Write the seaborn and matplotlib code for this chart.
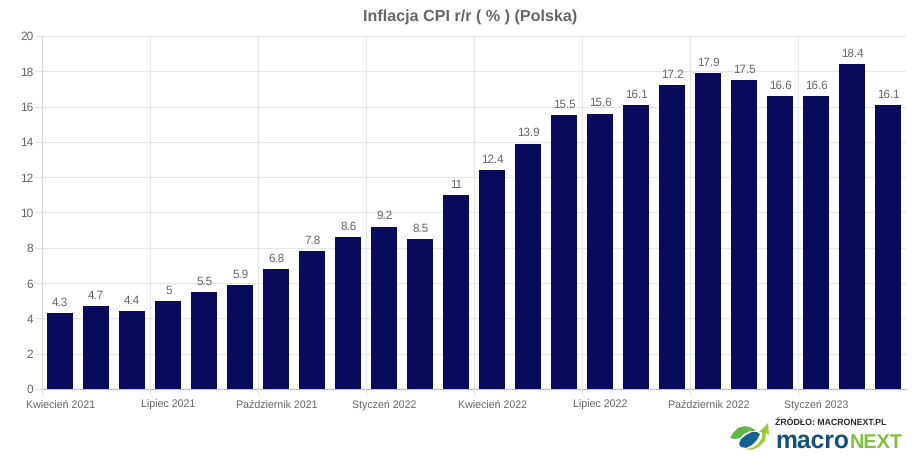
import matplotlib
matplotlib.use("Agg")
import matplotlib.pyplot as plt
from matplotlib.patches import Polygon
import matplotlib.font_manager as fm
import seaborn as sns
import pandas as pd

months = ["Kwiecień 2021","Maj 2021","Czerwiec 2021","Lipiec 2021","Sierpień 2021","Wrzesień 2021",
          "Październik 2021","Listopad 2021","Grudzień 2021","Styczeń 2022","Luty 2022","Marzec 2022",
          "Kwiecień 2022","Maj 2022","Czerwiec 2022","Lipiec 2022","Sierpień 2022","Wrzesień 2022",
          "Październik 2022","Listopad 2022","Grudzień 2022","Styczeń 2023","Luty 2023","Marzec 2023"]
values = [4.3,4.7,4.4,5,5.5,5.9,6.8,7.8,8.6,9.2,8.5,11,12.4,13.9,15.5,15.6,16.1,17.2,17.9,17.5,16.6,16.6,18.4,16.1]
title = "Inflacja CPI r/r ( % ) (Polska)"
yticks = list(range(0, 21, 2))

GREY = "#666666"
sns.set_theme(style="white")
plt.rcParams["font.family"] = ["Liberation Sans", "DejaVu Sans"]
plt.rcParams["text.hinting"] = "no_hinting"

W, H = 920, 457
fig = plt.figure(figsize=(W/100, H/100), dpi=100, facecolor="white")
ax = fig.add_axes([42.3/W, 1-389/H, 864/W, (389-36)/H])

df = pd.DataFrame({"month": months, "value": values})
sns.barplot(data=df, x="month", y="value", color="#0a0a5c", saturation=1, width=0.72,
            linewidth=0, ax=ax, zorder=3)
ax.set_xlim(-0.5, len(months)-0.5)
ax.set_ylim(0, 20)
ax.set_xlabel(""); ax.set_ylabel("")

ax.set_yticks(yticks)
ax.set_yticklabels([str(t) for t in yticks], fontsize=8.6, color=GREY)
shown = list(range(0, len(months), 3))
ax.set_xticks(shown)
ax.set_xticklabels([months[i] for i in shown], fontsize=7.7, color=GREY)
ax.tick_params(axis="y", length=6, width=0.8, color="#e4e4e4", pad=0.5, left=True)
ax.tick_params(axis="x", length=0, pad=8, bottom=False)

ax.grid(axis="y", color="#e6e6e6", lw=0.8, zorder=0)
for i in range(0, len(months), 3):
    ax.axvline(i-0.5, color="#e6e6e6", lw=0.8, zorder=0)
    ax.plot([i-0.5, i-0.5], [0, -0.33], color="#e6e6e6", lw=0.8, clip_on=False)
for s in ["top", "right"]:
    ax.spines[s].set_visible(False)
ax.spines["left"].set_color("#d5d5d5"); ax.spines["left"].set_linewidth(0.8)
ax.spines["bottom"].set_color("#c4c4c4"); ax.spines["bottom"].set_linewidth(0.8)

ax.bar_label(ax.containers[0], labels=[f"{v:g}" for v in values], padding=3.5,
             fontsize=8.4, color=GREY)

fig.text(470/W, 1-17/H, title, ha="center", va="center", fontsize=11.6,
         fontweight="bold", color=GREY)

# logo
names = {f.name for f in fm.fontManager.ttflist}
logo_font = "Liberation Sans Narrow" if "Liberation Sans Narrow" in names else "Liberation Sans"
scale = 1.0 if logo_font.endswith("Narrow") else 0.82
fig.text(775/W, 1-423.5/H, "ŹRÓDŁO: MACRONEXT.PL", fontsize=6.3, fontweight="bold",
         color="#2b2b2b", ha="left", va="center")
fig.text(775/W, 1-448/H, "macro", fontsize=21.6*scale, fontweight="bold", color="#14507f",
         ha="left", va="baseline", family=logo_font)
fig.text(850/W, 1-448/H, "NEXT", fontsize=17.5*scale, fontweight="bold", color="#7fc241",
         ha="left", va="baseline", family=logo_font)

def shape(pts, color):
    fig.add_artist(Polygon([(x/W, 1-y/H) for x, y in pts], closed=True, fc=color, ec="none",
                           transform=fig.transFigure))

shape([(730,438),(733,433),(738,428),(745,426),(752,428),(756,431),(750,431),(744,434),(740,438),(735,439)], "#5fb548")
shape([(739,444),(741,439),(746,435),(752,432),(757,432),(760,434),(757,440),(752,445),(746,448),(741,447)], "#14628f")
shape([(745,449),(752,448),(758,444),(762,438),(762,432),(759,432),(768,423),(769,435),(766,433),(765,441),(759,447),(752,450)], "#9ccb3c")

fig.savefig("out.png", dpi=100, facecolor="white")
